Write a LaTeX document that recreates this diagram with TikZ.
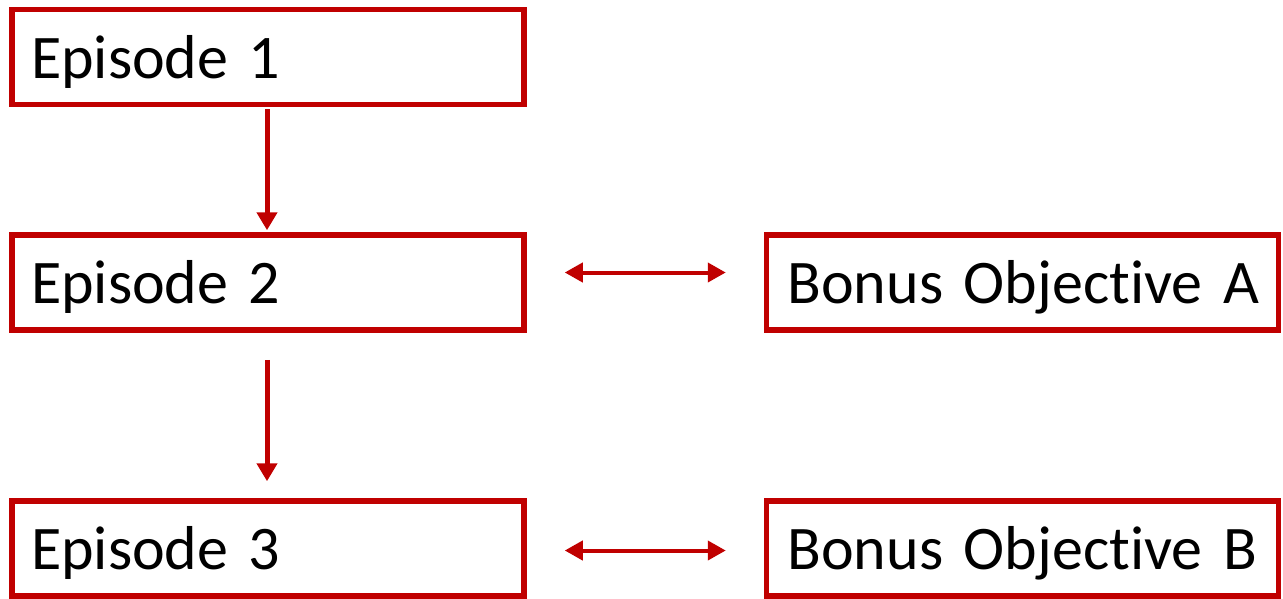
\documentclass[tikz,border=0pt]{standalone}
\usepackage{fontspec}
\setmainfont{Carlito}[Ligatures={NoCommon,NoRequired,NoContextual}]
\usetikzlibrary{arrows.meta}
\definecolor{boxred}{HTML}{C00000}
\tikzset{
  box/.style={draw=boxred, line width=5.5pt, rectangle, minimum height=95pt,
    text width=474pt, align=left, inner xsep=19pt, inner ysep=0pt,
    text height=52pt, text depth=10pt, font=\fontsize{62}{70}\selectfont},
  bbox/.style={box, inner xsep=21pt, text width=470pt},
  varrow/.style={draw=boxred, line width=5pt, -{Triangle[length=18pt,width=20pt]}},
  harrow/.style={draw=boxred, line width=4pt, {Triangle[length=18pt,width=19pt]}-{Triangle[length=18pt,width=19pt]}}
}
\begin{document}
\begin{tikzpicture}[x=1pt,y=-1pt]
\useasboundingbox (0,0) rectangle (1283,598);
\node[box] (ep1) at (268,57) {\mbox{Episode 1}};
\node[box] (ep2) at (268,282.5) {\mbox{Episode 2}};
\node[box] (ep3) at (268,548.5) {\mbox{Episode 3}};
\node[bbox] (ba) at (1022.5,282.5) {\mbox{Bonus Objective A}};
\node[bbox] (bb) at (1022.5,548.5) {\mbox{Bonus Objective B}};
\draw[varrow, shorten <=2pt, shorten >=2pt] ([xshift=-1pt]ep1.south) -- ([xshift=-1pt]ep2.north);
\draw[varrow, shorten <=27pt, shorten >=17pt] ([xshift=-1pt]ep2.south) -- ([xshift=-1pt]ep3.north);
\draw[harrow, shorten <=38pt, shorten >=38pt] ([yshift=10pt]ep2.east) -- ([yshift=10pt]ba.west);
\draw[harrow, shorten <=38pt, shorten >=38pt] ([yshift=-2pt]ep3.east) -- ([yshift=-2pt]bb.west);
\end{tikzpicture}
\end{document}
